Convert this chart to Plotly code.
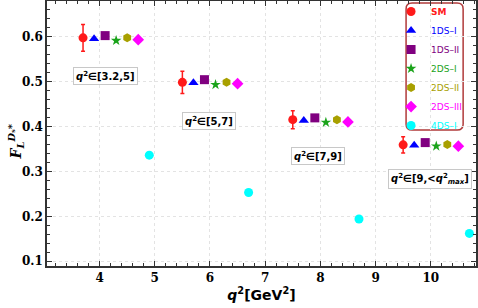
import plotly.graph_objects as go

# ---- data ----
models = ["SM", "1DS–I", "1DS–II", "2DS–I", "2DS–II", "2DS–III", "4DS–I"]
x_SM = [3.7, 5.5, 7.5, 9.5]
x_1DS_I = [3.9, 5.7, 7.7, 9.7]
x_1DS_II = [4.1, 5.9, 7.9, 9.9]
x_2DS_I = [4.3, 6.1, 8.1, 10.1]
x_2DS_II = [4.5, 6.3, 8.3, 10.3]
x_2DS_III = [4.7, 6.5, 8.5, 10.5]
x_4DS_I = [4.9, 6.7, 8.7, 10.7]

y_SM = [0.597, 0.498, 0.415, 0.359]
err_SM = [0.030, 0.025, 0.020, 0.018]
y_1DS_I = [0.595, 0.497, 0.413, 0.358]
y_1DS_II = [0.602, 0.504, 0.419, 0.364]
y_2DS_I = [0.591, 0.493, 0.409, 0.356]
y_2DS_II = [0.597, 0.498, 0.415, 0.360]
y_2DS_III = [0.593, 0.495, 0.410, 0.356]
y_4DS_I = [0.336, 0.253, 0.194, 0.162]

bin_labels = ["<i>q</i><sup>2</sup>∈[3.2,5]", "<i>q</i><sup>2</sup>∈[5,7]",
              "<i>q</i><sup>2</sup>∈[7,9]",
              "<i>q</i><sup>2</sup>∈[9,&lt;<i>q</i><sup>2</sup><sub><i>max</i></sub>]"]
label_x = [4.10, 5.99, 7.96, 9.99]
label_y = [0.513, 0.413, 0.335, 0.284]

x_ticks = [4, 5, 6, 7, 8, 9, 10]
y_ticks = [0.1, 0.2, 0.3, 0.4, 0.5, 0.6]

# ---- styles ----
series = [
    (models[0], x_SM, y_SM, "circle", 9, "#ff1a1a"),
    (models[1], x_1DS_I, y_1DS_I, "triangle-up", 9, "#0000ff"),
    (models[2], x_1DS_II, y_1DS_II, "square", 9, "#800080"),
    (models[3], x_2DS_I, y_2DS_I, "star", 8, "#1aa31a"),
    (models[4], x_2DS_II, y_2DS_II, "hexagon", 9, "#a8a000"),
    (models[5], x_2DS_III, y_2DS_III, "diamond", 9, "#ff00ff"),
    (models[6], x_4DS_I, y_4DS_I, "circle", 9, "#00ffff"),
]

fig = go.Figure()
for i, (name, xs, ys, sym, sz, col) in enumerate(series):
    label = f"<span style='color:{col}'>{'<b>'+name+'</b>' if i == 0 else name}</span>"
    kw = {}
    if i == 0:
        kw["error_y"] = dict(type="data", array=err_SM, color=col, thickness=1.5, width=2)
    fig.add_trace(go.Scatter(
        x=xs, y=ys, mode="markers", name=label,
        marker=dict(symbol=sym, size=sz, color=col, line=dict(width=0)),
        **kw))

for t, lx, ly in zip(bin_labels, label_x, label_y):
    fig.add_annotation(x=lx, y=ly, xref="x", yref="y", text=f"<b>{t}</b>",
                       showarrow=False, bgcolor="white", bordercolor="#c8c8c8",
                       borderwidth=1, borderpad=2,
                       font=dict(family="DejaVu Sans", size=10, color="black"))

# y-axis title
fig.add_annotation(x=-0.098, y=0.47, xref="paper", yref="paper",
                   text="<b><i>F</i><sub><i>L</i></sub><sup><i>D</i>ₛ*</sup></b>",
                   textangle=-90, showarrow=False,
                   font=dict(family="DejaVu Serif", size=14, color="black"))

# rounded legend frame
L, R, B, T = 0.837, 0.970, 0.513, 0.992
rx, ry = 0.014, 0.022
path = (f"M {L+rx},{B} L {R-rx},{B} Q {R},{B} {R},{B+ry} L {R},{T-ry} Q {R},{T} {R-rx},{T} "
        f"L {L+rx},{T} Q {L},{T} {L},{T-ry} L {L},{B+ry} Q {L},{B} {L+rx},{B} Z")
fig.add_shape(type="path", path=path, xref="paper", yref="paper",
              line=dict(color="#b03a3a", width=1.5), fillcolor="white", layer="below")

axis_common = dict(
    showline=True, linecolor="#333333", linewidth=1.5, mirror="allticks",
    ticks="inside", ticklen=5, tickcolor="#333333", tickwidth=1,
    showgrid=True, gridcolor="#e3e3e3", griddash="dot", gridwidth=1,
    zeroline=False,
    tickfont=dict(family="DejaVu Serif", size=12, color="black", weight="bold"),
)

fig.update_xaxes(range=[3.047, 10.82], tickvals=x_ticks, **axis_common,
                 minor=dict(dtick=0.2, ticks="inside", ticklen=3, tickcolor="#333333", showgrid=False),
                 title=dict(text="<b><i>q</i><sup>2</sup>[GeV<sup>2</sup>]</b>", standoff=4,
                            font=dict(family="DejaVu Sans", size=14, color="black")))
fig.update_yaxes(range=[0.0895, 0.679], tickvals=y_ticks, tickformat=".1f", **axis_common,
                 minor=dict(dtick=0.02, ticks="inside", ticklen=3, tickcolor="#333333", showgrid=False))

fig.update_layout(
    width=478, height=308,
    margin=dict(l=47, r=2, t=1, b=42, autoexpand=False),
    paper_bgcolor="white", plot_bgcolor="white",
    showlegend=True,
    legend=dict(x=0.802, y=1.015, xanchor="left", yanchor="top",
                bgcolor="rgba(0,0,0,0)", borderwidth=0,
                font=dict(family="DejaVu Sans", size=9),
                itemwidth=30, tracegroupgap=0),
)

fig.write_html("out.html", config={"displayModeBar": False},
               post_script="document.body.style.margin='0px';")
